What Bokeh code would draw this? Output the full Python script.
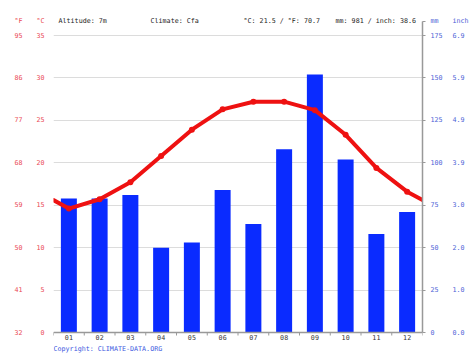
from bokeh.plotting import figure
from bokeh.models import Range1d, LinearAxis, FixedTicker, ColumnDataSource
from bokeh.core.properties import value
from bokeh.embed import file_html
from bokeh.resources import INLINE

# ---- data ----
months = ["01", "02", "03", "04", "05", "06", "07", "08", "09", "10", "11", "12"]
temp_c = [14.6, 15.7, 17.7, 20.8, 23.9, 26.3, 27.2, 27.2, 26.2, 23.3, 19.4, 16.6]
precip_mm = [79, 79, 81, 50, 53, 84, 64, 108, 152, 102, 58, 71]
c_ticks = [0, 5, 10, 15, 20, 25, 30, 35]
mm_ticks = [0, 25, 50, 75, 100, 125, 150, 175]
altitude = "7m"
climate = "Cfa"
avg_c, avg_f = 21.5, 70.7
total_mm, total_in = 981, 38.6
copyright_txt = "Copyright: CLIMATE-DATA.ORG"

FONT = "DejaVu Sans Mono"
FS = "6.7px"
RED_TXT = "#ea4852"
BLUE_TXT = "#4a62d6"
DARK_TXT = "#222222"
AXIS_GREY = "#999999"

W, H = 474, 355
FL, FR = 53, 422           # frame left/right (px)
ZERO_Y = 332               # 0 °C baseline (px from top)
PX_PER_C = 297 / 35        # vertical scale
c_lo = -(H - ZERO_Y) / PX_PER_C
c_hi = ZERO_Y / PX_PER_C
HEAD_C = 36.7              # height of the header row, in °C units
HEAD_MM = HEAD_C * 5
PX_PER_MONTH = (FR - FL) / 12

p = figure(width=W, height=H, output_backend="svg", toolbar_location=None,
           x_range=Range1d(0, 12), y_range=Range1d(c_lo, c_hi),
           x_axis_type=None,
           min_border_left=FL, min_border_right=W - FR,
           min_border_top=0, min_border_bottom=0)
p.extra_y_ranges = {"mm": Range1d(c_lo * 5, c_hi * 5)}
p.outline_line_color = None

centers = [i + 0.5 for i in range(12)]
bounds = [float(i) for i in range(13)]

# grid
p.ygrid.ticker = FixedTicker(ticks=c_ticks)
p.ygrid.grid_line_color = "#dcdcdc"

# precipitation bars
src = ColumnDataSource(dict(x=centers, mm=precip_mm))
p.vbar(x="x", top="mm", width=0.52, bottom=0, source=src, y_range_name="mm",
       fill_color="#0a2bff", line_color=None)

# temperature line, extended to the edges with the Dec/Jan mean
edge = (temp_c[0] + temp_c[-1]) / 2
p.line([0.0] + centers + [12.0], [edge] + temp_c + [edge],
       line_color="#ee1111", line_width=4, line_join="round", line_cap="round")
p.scatter(centers, temp_c, size=6, fill_color="#ee1111", line_color=None)

# month axis: baseline, boundary ticks, labels
tick_len = 3 / PX_PER_C
p.segment(x0=[0.0], y0=[0.0], x1=[12.0], y1=[0.0], line_color=AXIS_GREY, line_width=1.5)
p.segment(x0=bounds, y0=[0.0] * 13, x1=bounds, y1=[-tick_len] * 13,
          line_color=AXIS_GREY, line_width=1)
p.text(x=centers, y=[-4.5 / PX_PER_C] * 12, text=months, text_color="#333333",
       text_font=value(FONT), text_font_size=FS, text_align="center", text_baseline="middle")
p.text(x=[0.0], y=[-16 / PX_PER_C], text=[copyright_txt], text_color="#3a58e0",
       text_font=value(FONT), text_font_size=FS, text_align="left", text_baseline="middle")

# header row inside the frame
head_txt = [f"Altitude: {altitude}", f"Climate: {climate}",
            f"°C: {avg_c} / °F: {avg_f}", f"mm: {total_mm} / inch: {total_in}"]
head_px = [58, 150, 243, 335]
p.text(x=[(px - FL) / PX_PER_MONTH for px in head_px], y=[HEAD_C] * 4, text=head_txt,
       text_color=DARK_TXT, text_font=value(FONT), text_font_size=FS,
       text_align="left", text_baseline="middle")


def style(ax, color, standoff):
    ax.major_label_text_font = FONT
    ax.major_label_text_font_size = FS
    ax.major_label_text_color = color
    ax.major_label_standoff = standoff


def bare(ax):
    ax.axis_line_color = None
    ax.major_tick_line_color = None
    ax.minor_tick_line_color = None
    ax.major_tick_out = 0
    ax.major_tick_in = 0
    ax.minor_tick_out = 0
    ax.minor_tick_in = 0


# left °C axis (nearest the frame), with its unit as a header label
yc = p.yaxis[0]
yc.ticker = FixedTicker(ticks=c_ticks + [HEAD_C])
yc.major_label_overrides = {HEAD_C: "°C"}
bare(yc)
style(yc, RED_TXT, 9)

# left °F axis (outer)
f_over = {c: str(round(c * 9 / 5 + 32)) for c in c_ticks}
f_over[HEAD_C] = "°F"
yf = LinearAxis(ticker=FixedTicker(ticks=c_ticks + [HEAD_C]), major_label_overrides=f_over)
bare(yf)
style(yf, RED_TXT, 11)
p.add_layout(yf, "left")

# right mm axis
ymm = LinearAxis(y_range_name="mm", ticker=FixedTicker(ticks=mm_ticks + [HEAD_MM]),
                 major_label_overrides={HEAD_MM: "mm"}, bounds=(0, HEAD_MM))
ymm.axis_line_color = AXIS_GREY
ymm.axis_line_width = 1.5
ymm.major_tick_line_color = AXIS_GREY
ymm.major_tick_out = 3
ymm.major_tick_in = 0
ymm.minor_tick_line_color = None
ymm.minor_tick_out = 0
ymm.minor_tick_in = 0
style(ymm, BLUE_TXT, 5)
p.add_layout(ymm, "right")

# right inch axis
in_over = {m: f"{m / 25.4:.1f}" for m in mm_ticks}
in_over[HEAD_MM] = "inch"
yin = LinearAxis(y_range_name="mm", ticker=FixedTicker(ticks=mm_ticks + [HEAD_MM]),
                 major_label_overrides=in_over)
bare(yin)
style(yin, BLUE_TXT, 7)
p.add_layout(yin, "right")

open("out.html", "w").write(file_html(p, INLINE))
